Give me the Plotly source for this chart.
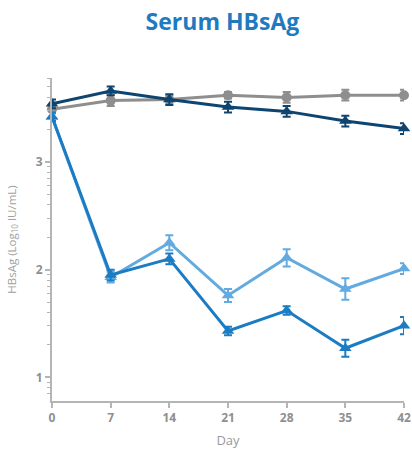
import numpy as np
import plotly.graph_objects as go

days = [0, 7, 14, 21, 28, 35, 42]

gray_vals = [3.49, 3.57, 3.58, 3.62, 3.60, 3.62, 3.62]
gray_err = [0.04, 0.05, 0.04, 0.03, 0.05, 0.05, 0.05]

navy_vals = [3.54, 3.66, 3.58, 3.51, 3.47, 3.38, 3.31]
navy_err = [0.04, 0.04, 0.05, 0.05, 0.05, 0.05, 0.05]

light_vals = [3.42, 1.93, 2.25, 1.76, 2.11, 1.82, 2.01]
light_err = [0.04, 0.05, 0.07, 0.06, 0.08, 0.10, 0.05]

mid_vals = [3.42, 1.95, 2.10, 1.43, 1.62, 1.27, 1.48]
mid_err = [0.04, 0.05, 0.05, 0.04, 0.04, 0.08, 0.08]

y_ticks = [1, 2, 3]
x_ticks = [0, 7, 14, 21, 28, 35, 42]

minor_vals = [float(np.log10(k * 10 ** n)) for n in range(0, 4) for k in range(2, 10)]
minor_vals = [v for v in minor_vals if 0.77 <= v <= 3.79]

series = [
    (gray_vals, gray_err, "#8e8e8e", "circle", 10),
    (navy_vals, navy_err, "#0e4470", "triangle-up", 11),
    (light_vals, light_err, "#62aadf", "triangle-up", 11),
    (mid_vals, mid_err, "#1b7cc3", "triangle-up", 11),
]

fig = go.Figure()
for vals, err, col, sym, sz in series:
    fig.add_trace(go.Scatter(
        x=days, y=vals, mode="lines+markers",
        line=dict(color=col, width=3),
        marker=dict(symbol=sym, size=sz, color=col),
        error_y=dict(type="data", array=err, visible=True, color=col, thickness=2, width=4),
        showlegend=False, cliponaxis=False, hoverinfo="skip",
    ))

axis_color = "#b5b5b5"
tick_font = dict(family="Open Sans", size=12, color="#8f8f8f", weight="bold")
fig.update_layout(
    width=412, height=452,
    paper_bgcolor="white", plot_bgcolor="white",
    margin=dict(l=52, r=8, t=78, b=51, autoexpand=False),
    title=dict(text="<b>Serum HBsAg</b>", x=0.54, xanchor="center", y=0.951, yanchor="middle",
               xref="container", yref="container",
               font=dict(family="Open Sans", size=23, color="#1f7ac0")),
    font=dict(family="Open Sans", color="#9a9a9a"),
)
fig.update_xaxes(
    range=[0, 42], tickvals=x_ticks, ticktext=[str(t) for t in x_ticks],
    showline=True, linecolor=axis_color, linewidth=2, ticks="outside", ticklen=5,
    tickcolor=axis_color, tickwidth=1.5, showgrid=False, zeroline=False,
    tickfont=tick_font, automargin=False,
    title=dict(text="Day", font=dict(size=13, color="#9a9a9a"), standoff=10),
)
fig.update_yaxes(
    range=[0.78, 3.78], tickvals=y_ticks, ticktext=[str(t) for t in y_ticks],
    showline=True, linecolor=axis_color, linewidth=2, ticks="outside", ticklen=5,
    tickcolor=axis_color, tickwidth=1.5, showgrid=False, zeroline=False,
    tickfont=tick_font, automargin=False,
    minor=dict(tickvals=minor_vals, ticks="outside", ticklen=3, tickcolor=axis_color, tickwidth=1, showgrid=False),
    title=dict(text="HBsAg (Log<sub>10</sub> IU/mL)", font=dict(size=11.5, color="#a0a0a0"), standoff=17),
)

fig.write_html("out.html", config={"displayModeBar": False},
               post_script="document.body.style.margin='0px';")
